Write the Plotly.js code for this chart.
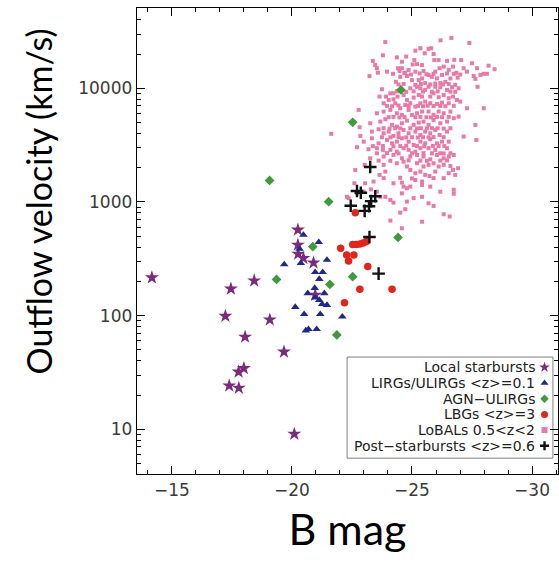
<!DOCTYPE html>
<html><head><meta charset="utf-8">
<script src="https://cdn.plot.ly/plotly-3.0.1.min.js"></script>
<style>html,body{margin:0;padding:0;background:#fff}#chart{width:559px;height:571px}</style>
</head><body><div id="chart"></div>
<script>
// ---------- data ----------
const seriesNames = ["Local starbursts", "LIRGs/ULIRGs <z>=0.1", "AGN\u2212ULIRGs", "LBGs <z>=3", "LoBALs 0.5<z<2", "Post\u2212starbursts <z>=0.6"];

const starMag = [-14.17,-20.25,-20.25,-20.26,-20.48,-20.90,-18.43,-17.46,-17.23,-19.08,-18.05,-19.67,-20.97,-18.00,-17.78,-17.39,-17.79,-20.10];
const starVel = [216,568,419,349,320,292,203,172,99,92,65,48,152,34.4,32,24.2,23.1,9.1];

const lirgMag = [-20.48,-21.12,-20.32,-19.68,-20.37,-21.46,-20.97,-21.28,-21.14,-20.95,-20.66,-21.35,-20.97,-21.14,-21.26,-21.46,-20.14,-20.51,-21.18,-22.10,-20.58,-20.69,-21.03];
const lirgVel = [513,443,386,282,289,309,241,241,210,175,157,157,144,137,126,124,119,103,103,98,74,76,76];

const agnMag = [-24.54,-22.53,-19.07,-21.53,-20.87,-24.42,-19.36,-22.53,-21.58,-21.87];
const agnVel = [9660,5020,1545,1006,404,487,208,220,188,67.6];

const lbgMag = [-22.64,-22.03,-22.28,-22.58,-22.36,-22.53,-22.68,-22.83,-22.97,-23.10,-23.16,-22.83,-24.17,-22.19];
const lbgVel = [805,392,342,342,303,423,423,427,436,449,271,171,171,130];

const psbMag = [-23.26,-22.71,-22.87,-22.45,-23.47,-23.30,-23.21,-23.03,-23.23,-23.61];
const psbVel = [2030,1250,1205,927,1122,1016,916,834,492,234];

const lobalMag = [
-23.89,-26.19,-26.64,-27.39,-25.14,-25.35,-25.69,-25.80,-25.53,-25.90,
-23.79,-24.37,-24.76,-26.11,-26.46,-26.76,-27.05,-25.93,-23.37,-23.47,
-24.58,-25.10,-25.21,-25.03,-25.42,-27.50,-28.19,-28.44,-23.54,-23.58,
-23.23,-23.96,-24.42,-24.58,-24.48,-24.72,-24.86,-25.14,-25.48,-25.69,
-25.97,-26.15,-26.32,-26.53,-26.71,-26.85,-26.90,-27.15,-27.29,-27.57,
-27.71,-27.85,-27.99,-28.12,-27.64,-24.33,-24.51,-24.79,-25.00,-25.28,
-25.42,-25.55,-25.83,-26.04,-26.18,-26.39,-26.60,-27.73,
-23.75,-24.23,-24.93,-25.21,-25.35,-25.55,-25.69,-25.97,-26.18,-26.46,-26.67,-26.94,
-23.65,-23.92,-24.10,-24.23,-24.40,-24.65,-24.79,-25.07,-25.28,-25.42,-25.76,-25.90,-26.11,-26.32,-26.53,-26.71,-26.87,
-23.82,-24.03,-24.30,-24.51,-24.72,-24.93,-25.14,-25.35,-25.55,-25.76,-26.04,-26.25,-26.53,-27.01,-27.99,-27.29,
-22.78,-23.54,-23.82,-24.10,-24.37,-24.58,-24.86,-25.00,-25.21,-25.42,-25.69,-25.90,-26.11,-26.32,-26.60,-26.94,-27.64,-27.68,
-22.82,-23.26,-23.68,-23.89,-24.17,-24.37,-24.58,-24.79,-25.07,-25.28,-25.48,-25.69,-25.90,-26.18,-26.46,-26.74,
-21.64,-22.85,-23.33,-23.61,-23.82,-24.03,-24.23,-24.44,-24.65,-24.86,-25.14,-25.35,-25.55,-25.76,-25.97,-26.15,-26.46,-27.15,
-22.99,-23.33,-23.61,-23.96,-24.17,-24.37,-24.58,-24.86,-25.07,-25.35,-25.55,-25.76,-26.04,-26.25,-26.53,
-22.71,-23.19,-23.54,-23.79,-24.10,-24.37,-24.65,-24.86,-25.14,-25.35,-25.69,-25.97,-26.18,-26.46,
-23.26,-23.82,-24.23,-24.58,-24.93,-25.21,-25.48,-25.76,-26.04,-26.32,-26.53,-26.74,
-23.03,-23.82,-24.37,-24.65,-24.79,-25.21,-25.48,-25.69,-25.90,-26.11,-26.32,-26.60,-26.92,
-22.64,-23.65,-23.89,-24.93,-25.14,-25.35,-25.55,-25.97,-26.53,-26.80,-26.71,
-22.60,-23.05,-23.40,-24.23,-24.58,-24.79,-25.14,-25.42,-25.73,-26.18,-26.74,-26.74,
-22.71,-22.99,-22.36,
-23.29,-23.54,-23.68,-23.89,-24.65,-24.93,-25.42,-25.76,-22.29,-24.58,-24.10,-24.23,-24.79,-25.07,-25.42,-25.69,-25.90,-24.72,-24.51,-24.10,-24.58,-25.42,-26.32,-26.57,
// dense core
-24.21,-24.68,-24.96,-25.32,-25.60,-25.90,-26.25,-26.46,-26.74,-27.01,
-24.44,-24.65,-25.14,-25.37,-25.76,-25.97,-26.29,-26.53,-26.80,
-24.37,-24.76,-25.07,-25.46,-25.83,-26.07,-26.60,-26.80,
-23.96,-24.17,-24.44,-24.86,-25.25,-25.46,-25.65,-25.90,-26.18,-26.39,-26.74,
-24.03,-24.23,-24.48,-24.69,-25.14,-25.35,-25.60,-25.79,-26.04,-26.25,-26.53,
-23.82,-24.07,-24.30,-24.51,-24.93,-25.21,-25.37,-25.62,-25.83,-26.07,-26.32,-26.60,
-23.75,-24.10,-24.44,-24.76,-25.00,-25.24,-25.46,-25.69,-25.90,-26.32,
-23.37,-23.79,-24.23,-24.51,-24.76,-25.21,-25.51,-25.87,-26.11,-26.35,
-23.54,-23.96,-24.44,-25.00,-25.48,-25.83,-26.32,-26.60,
-23.61,-24.10,-24.86,-25.35,-25.62,-26.18,-26.46,
-23.82,-24.51,-25.00,-25.90,-26.32
];
const lobalVel = [
25500,26400,27700,25000,21400,22500,22200,22500,20300,20000,
19500,18700,19000,17700,17400,17800,17700,17700,17400,16000,
17100,17700,16300,16200,16000,16600,15800,14700,15000,13700,
12800,14000,15000,15000,14200,13700,14500,14000,14200,13100,
14000,15000,15500,14500,15500,13700,12400,15000,14000,12800,
15000,13100,13400,13400,12100,11400,12600,12800,11800,11800,
12200,11100,12600,12200,11100,11400,12200,10300,
9800,9030,10000,10300,10000,9670,10300,10300,10200,9670,10200,10000,
8450,8450,9030,8000,8450,8730,7890,8280,8730,8450,8450,9030,8340,8730,8170,8450,7890,
7380,7890,7380,6670,7130,7380,6900,7380,7630,7380,7280,7480,7380,7630,6670,6670,
6450,6030,6240,6450,6030,5830,6450,5830,6030,6240,6240,5830,6240,6030,6240,5630,4760,3510,
4540,4920,5090,5340,4760,4600,4920,5190,4760,4990,5090,4760,5270,4920,5090,5450,
3970,3810,4160,4360,4020,4160,3810,4020,4300,4020,4160,3880,4160,4020,4300,3880,4160,3760,
3390,3630,3280,3510,3280,3390,3630,3390,3170,3390,3280,3560,3280,3390,3390,
3030,2910,2970,2870,2870,2770,2970,2870,2770,2970,2970,2870,2680,2970,
2420,2510,2590,2420,2510,2590,2510,2370,2590,2420,2510,2590,
2120,2120,2190,2260,2050,2190,2050,2120,2190,2050,2120,2070,1980,
1910,1730,1850,1910,1790,1850,1730,1850,1790,1730,1910,
1460,1460,1510,1460,1480,1320,1560,1410,1690,1230,1280,1180,
1190,1230,1080,
1290,1230,1110,1110,1365,1365,1510,1365,1110,1190,1040,987,1007,1080,1110,973,922,863,806,685,587,670,780,745,
// dense core
13400,13600,13200,13500,13300,13400,13100,13500,13400,13200,
10800,10900,10700,10900,10800,11000,10800,10900,10700,
9400,9300,9400,9350,9300,9400,9350,9300,
7000,6950,7050,6980,7000,6950,7020,6980,7000,6950,7000,
5560,5600,5540,5580,5560,5600,5560,5540,5580,5560,5600,
4450,4420,4460,4440,4450,4430,4450,4440,4460,4450,4420,4450,
3710,3700,3720,3700,3710,3690,3710,3700,3720,3710,
3100,3110,3090,3100,3120,3100,3090,3110,3100,3100,
2680,2690,2670,2680,2690,2680,2670,2680,
2310,2300,2320,2310,2300,2310,2320,
1620,1630,1610,1620,1620
];

const yTickVals = [10, 100, 1000, 10000];
const yTickText = ["10", "100", "1000", "10000"];

// ---------- styles ----------
const styles = [
  {symbol: "star", color: "#7b2a7c", size: 10.5, lsize: 8},
  {symbol: "triangle-up", color: "#1e2a86", size: 7.5, lsize: 7},
  {symbol: "diamond", color: "#3f9a3c", size: 7.5, lsize: 6.5},
  {symbol: "circle", color: "#e0251d", size: 7.5, lsize: 7},
  {symbol: "square", color: "#e87aa8", size: 4, lsize: 6},
  {symbol: "cross-thin-open", color: "#111111", size: 9, lsize: 6.5}
];
const seriesData = [
  [starMag, starVel], [lirgMag, lirgVel], [agnMag, agnVel],
  [lbgMag, lbgVel], [lobalMag, lobalVel], [psbMag, psbVel]
];
const drawOrder = [4, 0, 1, 2, 3, 5];

function mk(i, size) {
  const s = styles[i];
  const m = {symbol: s.symbol, color: s.color, size: size};
  if (s.symbol === "cross-thin-open") m.line = {color: s.color, width: 2.4};
  else m.line = {width: 0};
  return m;
}

const traces = drawOrder.map(i => ({
  type: "scatter", mode: "markers", name: seriesNames[i],
  x: seriesData[i][0], y: seriesData[i][1],
  marker: mk(i, styles[i].size), showlegend: false, hoverinfo: "x+y+name"
}));

// custom legend (symbols to the right of the text)
const legTop = 0.229, legStep = 0.0337, legMarkX = 0.968, legTextX = 0.949;
seriesNames.forEach((n, i) => {
  traces.push({
    type: "scatter", mode: "markers", xaxis: "x2", yaxis: "y2",
    x: [legMarkX], y: [legTop - i * legStep],
    marker: mk(i, styles[i].lsize), showlegend: false, hoverinfo: "skip"
  });
});
const esc = s => s.replace(/</g, "&lt;").replace(/>/g, "&gt;");
const annotations = seriesNames.map((n, i) => ({
  xref: "paper", yref: "paper", x: legTextX, y: legTop - i * legStep,
  xanchor: "right", yanchor: "middle", showarrow: false,
  text: esc(n), font: {family: "DejaVu Sans, sans-serif", size: 14, color: "#222"}
}));
annotations.push({
  xref: "paper", yref: "paper", x: -0.235, y: 0.585, textangle: -90,
  xanchor: "center", yanchor: "middle", showarrow: false,
  text: "Outflow velocity (km/s)", font: {family: "Lato, sans-serif", size: 34, color: "#000"}
});

const minorY = [];
for (let d = 0; d <= 4; d++) for (let k = 2; k <= 9; k++) minorY.push(k * Math.pow(10, d));

const tickFont = {family: "DejaVu Sans, sans-serif", size: 17, color: "#3a3a3a"};
const layout = {
  width: 559, height: 571,
  margin: {l: 137, r: 1, t: 8, b: 97, pad: 0},
  paper_bgcolor: "#fff", plot_bgcolor: "#fff",
  showlegend: false,
  xaxis: {
    range: [-13.55, -31.08], dtick: 5, tick0: 0,
    ticks: "inside", ticklen: 8, tickwidth: 1, tickcolor: "#000",
    minor: {dtick: 1, ticks: "inside", ticklen: 4, tickwidth: 1, tickcolor: "#000", showgrid: false},
    showline: true, linecolor: "#000", linewidth: 1.3, mirror: "ticks",
    showgrid: false, zeroline: false, tickfont: tickFont,
    title: {text: "B mag", font: {family: "Lato, sans-serif", size: 43, color: "#000"}, standoff: 16}
  },
  yaxis: {
    type: "log", range: [0.607, 4.706],
    tickmode: "array", tickvals: yTickVals, ticktext: yTickText,
    ticks: "inside", ticklen: 8, tickwidth: 1, tickcolor: "#000",
    minor: {tickmode: "array", tickvals: minorY, ticks: "inside", ticklen: 4, tickwidth: 1, tickcolor: "#000", showgrid: false},
    showline: true, linecolor: "#000", linewidth: 1.3, mirror: "ticks",
    showgrid: false, zeroline: false, tickfont: tickFont
  },
  xaxis2: {domain: [0, 1], range: [0, 1], anchor: "y2", overlaying: "x", visible: false, fixedrange: true},
  yaxis2: {domain: [0, 1], range: [0, 1], anchor: "x2", overlaying: "y", visible: false, fixedrange: true},
  shapes: [{
    type: "rect", xref: "paper", yref: "paper", x0: 0.499, x1: 0.988, y0: 0.034, y1: 0.251,
    fillcolor: "#fff", line: {color: "#7f7f7f", width: 1}, layer: "below"
  }],
  annotations: annotations
};

Plotly.newPlot("chart", traces, layout, {displayModeBar: false, staticPlot: true});
</script>
</body></html>
